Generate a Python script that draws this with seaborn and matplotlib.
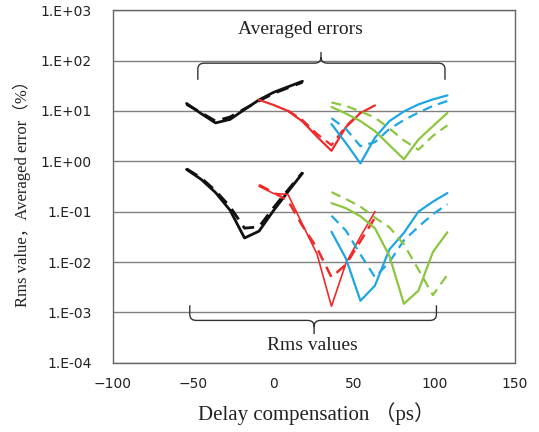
import matplotlib.pyplot as plt
from matplotlib.path import Path
from matplotlib.patches import PathPatch
import pandas as pd
import seaborn as sns

# delay compensation (ps) for each colour group
x_black = [-54, -45, -36, -27, -18, -9, 0, 9, 18]
x_red = [-9, 0, 9, 18, 27, 36, 45, 54, 63]
x_red_dash_err = [9, 18, 27, 36, 45, 54]
x_bg = [36, 45, 54, 63, 72, 81, 90, 99, 108]

# averaged errors (%)
err_black = [14.1, 8.9, 5.8, 6.8, 10.7, 16.6, 23.4, 30.2, 38.9]
err_black_d = [13.5, 9.3, 6.3, 7.6, 11.0, 15.8, 22.4, 28.8, 37.2]
err_red = [16.6, 13.2, 10.0, 6.2, 3.1, 1.62, 4.8, 9.1, 12.9]
err_red_d = [10.2, 6.6, 3.5, 2.1, 5.0, 9.3]
err_blue = [5.5, 2.3, 0.91, 2.95, 6.3, 9.8, 13.5, 17.0, 20.4]
err_blue_d = [7.2, 4.4, 2.0, 2.4, 4.4, 6.6, 9.3, 12.6, 15.8]
err_green = [12.0, 8.9, 6.3, 4.0, 2.1, 1.10, 2.7, 5.0, 9.1]
err_green_d = [14.8, 12.6, 9.8, 7.4, 4.5, 2.6, 1.70, 3.2, 5.2]

# rms values
rms_black = [0.69, 0.44, 0.24, 0.107, 0.030, 0.041, 0.105, 0.25, 0.58]
rms_black_d = [0.71, 0.47, 0.26, 0.126, 0.047, 0.050, 0.120, 0.27, 0.60]
rms_red = [0.32, 0.23, 0.22, 0.056, 0.0145, 0.00132, 0.0095, 0.032, 0.10]
rms_red_d = [0.34, 0.24, 0.166, 0.052, 0.019, 0.0050, 0.0089, 0.026, 0.076]
rms_blue = [0.040, 0.0117, 0.0017, 0.0034, 0.0178, 0.038, 0.100, 0.158, 0.234]
rms_blue_d = [0.083, 0.042, 0.0141, 0.0050, 0.0100, 0.027, 0.050, 0.089, 0.141]
rms_green = [0.148, 0.117, 0.081, 0.047, 0.0132, 0.00148, 0.0027, 0.0158, 0.039]
rms_green_d = [0.245, 0.178, 0.126, 0.076, 0.049, 0.0224, 0.0071, 0.0022, 0.0056]

xticks = [-100, -50, 0, 50, 100, 150]
ytick_exp = [3, 2, 1, 0, -1, -2, -3, -4]

BLACK, RED, BLUE, GREEN = "#111111", "#ee2a2a", "#1ea6e0", "#8cc63f"
DASH = (0, (4.5, 2.8))

series = [
    ("err black", x_black, err_black, BLACK, "-", 2.0),
    ("err black d", x_black, err_black_d, BLACK, DASH, 2.0),
    ("err red", x_red, err_red, RED, "-", 1.6),
    ("err red d", x_red_dash_err, err_red_d, RED, DASH, 1.6),
    ("err blue", x_bg, err_blue, BLUE, "-", 1.6),
    ("err blue d", x_bg, err_blue_d, BLUE, DASH, 1.6),
    ("err green", x_bg, err_green, GREEN, "-", 1.6),
    ("err green d", x_bg, err_green_d, GREEN, DASH, 1.6),
    ("rms black", x_black, rms_black, BLACK, "-", 2.0),
    ("rms black d", x_black, rms_black_d, BLACK, DASH, 2.0),
    ("rms red", x_red, rms_red, RED, "-", 1.2),
    ("rms red d", x_red, rms_red_d, RED, DASH, 1.8),
    ("rms blue", x_bg, rms_blue, BLUE, "-", 1.6),
    ("rms blue d", x_bg, rms_blue_d, BLUE, DASH, 1.6),
    ("rms green", x_bg, rms_green, GREEN, "-", 1.6),
    ("rms green d", x_bg, rms_green_d, GREEN, DASH, 1.6),
]

df = pd.concat(
    [pd.DataFrame({"delay": xs, "value": ys, "curve": name})
     for name, xs, ys, _, _, _ in series],
    ignore_index=True,
)

sns.set_style("white")
plt.rcParams["font.family"] = ["DejaVu Sans"]
SERIF = ["Liberation Serif", "Noto Sans CJK JP"]

fig = plt.figure(figsize=(5.39, 4.32), dpi=100)
ax = fig.add_axes([112.5 / 539, 1 - 362.7 / 432, 402.5 / 539, 352.4 / 432])

for name, _, _, colour, ls, lw in series:
    sns.lineplot(data=df[df["curve"] == name], x="delay", y="value",
                 color=colour, linestyle=ls, linewidth=lw, sort=False, ax=ax)

ax.set_yscale("log")
ax.set_ylim(1e-4, 1e3)
ax.set_xlim(-100, 150)
ax.set_yticks([10.0 ** e for e in ytick_exp])
ax.set_yticklabels([f"1.E{e:+03d}" for e in ytick_exp])
ax.yaxis.set_minor_locator(plt.NullLocator())
ax.set_xticks(xticks)
ax.tick_params(axis="x", direction="in", length=4, color="#666666",
               labelsize=10, pad=10, labelcolor="#222222")
ax.tick_params(axis="y", length=0, labelsize=10, pad=15, labelcolor="#222222")
ax.yaxis.grid(True, color="#808080", linewidth=1)
ax.xaxis.grid(False)
for sp in ax.spines.values():
    sp.set_color("#666666")
    sp.set_linewidth(1)

ax.set_xlabel("Delay compensation （ps）", family=SERIF, fontsize=15,
              color="#222222", va="center")
ax.xaxis.set_label_coords(0.506, -0.143)
ax.set_ylabel("Rms value，Averaged error（%）", family=SERIF, fontsize=12,
              color="#222222", va="center")
ax.yaxis.set_label_coords(-0.225, 0.49)


def brace(x0, x1, xm, ybar, ytip, ytail, rx=4.0, ry=0.12):
    # ys given as log10 exponents, drawn on the log axis
    s = 1 if ytip > ybar else -1
    t = 1 if ytail > ybar else -1
    pts = [
        (x0, ytip), (x0, ybar + s * ry), (x0, ybar), (x0 + rx, ybar),
        (xm - rx, ybar), (xm, ybar), (xm, ybar + t * ry), (xm, ytail),
        (xm, ybar + t * ry), (xm, ybar), (xm + rx, ybar),
        (x1 - rx, ybar), (x1, ybar), (x1, ybar + s * ry), (x1, ytip),
    ]
    codes = [Path.MOVETO, Path.LINETO, Path.CURVE3, Path.CURVE3,
             Path.LINETO, Path.CURVE3, Path.CURVE3, Path.LINETO,
             Path.MOVETO, Path.CURVE3, Path.CURVE3,
             Path.LINETO, Path.CURVE3, Path.CURVE3, Path.LINETO]
    verts = [(x, 10.0 ** y) for x, y in pts]
    ax.add_patch(PathPatch(Path(verts, codes), fill=False,
                           edgecolor="#333333", linewidth=1.0))


brace(-47, 106.5, 29.5, 1.95, 1.62, 2.17)
brace(-52, 101.2, 25.2, -3.16, -2.86, -3.43)

ax.text(16.5, 10 ** 2.61, "Averaged errors", family=SERIF, fontsize=14,
        ha="center", va="center", color="#222222")
ax.text(24, 10 ** -3.65, "Rms values", family=SERIF, fontsize=14,
        ha="center", va="center", color="#222222")

fig.savefig("out.png", dpi=100)
